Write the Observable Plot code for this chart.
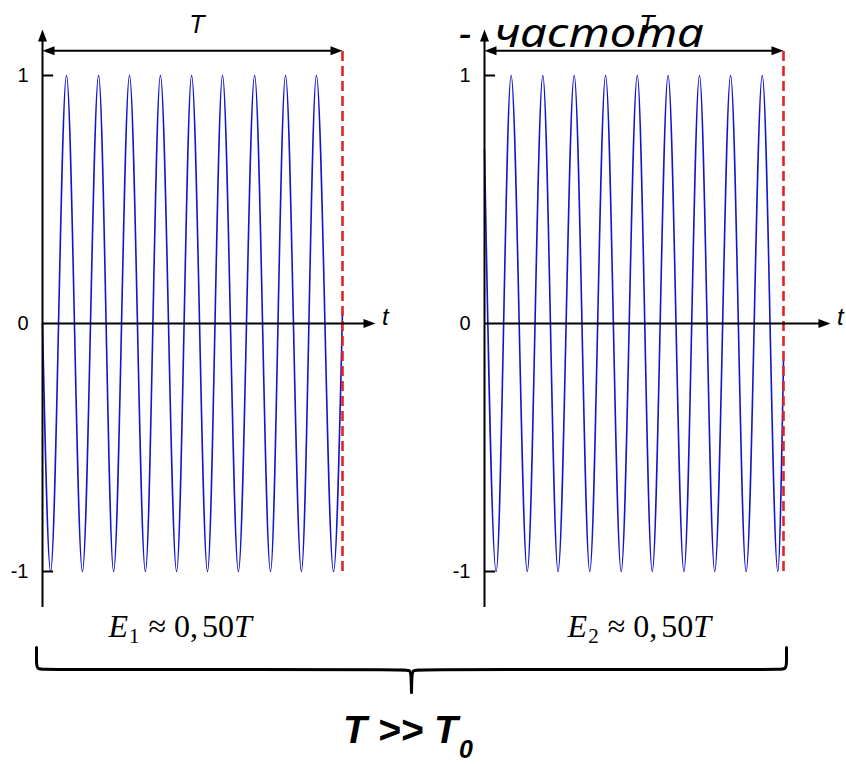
<!DOCTYPE html>
<html>
<head>
<meta charset="utf-8">
<script src="https://cdn.jsdelivr.net/npm/d3@7"></script>
<script src="https://cdn.jsdelivr.net/npm/@observablehq/plot@0.6"></script>
<style>
  html, body { margin: 0; padding: 0; background: #ffffff; }
  #fig { position: relative; width: 846px; height: 764px; overflow: hidden; background: #ffffff; }
  #fig svg { position: absolute; background: transparent !important; overflow: visible; }
  .hdr { position: absolute; font-family: "Noto Sans", "Liberation Sans", sans-serif; font-style: italic; font-size: 40px; line-height: 40px; white-space: pre; transform-origin: 0 0; color: #000; }
  .ftr { position: absolute; font-family: "Liberation Sans", Arial, sans-serif; font-style: italic; font-weight: bold; font-size: 39px; line-height: 39px; white-space: pre; color: #000; }
  .ftr.sub { font-size: 25px; line-height: 25px; }
</style>
</head>
<body>
<div id="fig"></div>
<script>
// ---------------- data ----------------
const yTickValues = [-1, 0, 1];
const yTickLabels = ["-1", "0", "1"];

// times (fraction of T) of the start, each extremum, and the end; values at those times
const leftT = [0, 0.027, 0.080, 0.133, 0.187, 0.237, 0.290, 0.343, 0.393, 0.447, 0.497,
               0.550, 0.600, 0.653, 0.707, 0.760, 0.810, 0.863, 0.913, 0.970, 1];
const leftV = [0, -1, 1, -1, 1, -1, 1, -1, 1, -1, 1,
               -1, 1, -1, 1, -1, 1, -1, 1, -1, 0.05];
const rightT = [0, 0.039, 0.089, 0.143, 0.195, 0.246, 0.300, 0.352, 0.405, 0.457, 0.511,
                0.561, 0.614, 0.667, 0.719, 0.770, 0.823, 0.875, 0.929, 0.981, 1];
const rightV = [0.7, -1, 1, -1, 1, -1, 1, -1, 1, -1, 1,
                -1, 1, -1, 1, -1, 1, -1, 1, -1, -0.15];

const periodLabel = "T";
const timeLabel = "t";
const energyLabels = ["E1 ≈ 0,50T", "E2 ≈ 0,50T"];
const headDash = "-";
const headWord = "частота";
const footMain = "T >> T";
const footSub = "0";

// ---------------- drawing ----------------
const sans = "'Liberation Sans', Arial, sans-serif";
const serif = "'Liberation Serif', 'Times New Roman', serif";
const upHead = {draw(c) { c.moveTo(0, 0); c.lineTo(4.5, 12); c.lineTo(-4.5, 12); c.closePath(); }};
const rightHead = {draw(c) { c.moveTo(0, 0); c.lineTo(-12, -4.5); c.lineTo(-12, 4.5); c.closePath(); }};
const leftHead = {draw(c) { c.moveTo(0, 0); c.lineTo(12, -4.5); c.lineTo(12, 4.5); c.closePath(); }};

const fig = document.getElementById("fig");
function place(el, left, top) {
  el.style.position = "absolute";
  el.style.left = left + "px";
  el.style.top = top + "px";
  fig.appendChild(el);
  return el;
}

function richEnergy(svg) {
  const NS = "http://www.w3.org/2000/svg";
  svg.querySelectorAll("text").forEach(el => {
    const m = el.textContent.match(/^(\S)(\d+)\s*≈\s*(\d+),(\d+)(\S)$/);
    if (!m) return;
    el.textContent = "";
    const parts = [
      {t: m[1], italic: true},
      {t: m[2], size: 21, dy: 6, dx: 1},
      {t: "≈", dy: -6, dx: 9},
      {t: m[3] + ",", dx: 8},
      {t: m[4], dx: 4},
      {t: m[5], italic: true}
    ];
    for (const p of parts) {
      const ts = document.createElementNS(NS, "tspan");
      ts.textContent = p.t;
      if (p.italic) ts.setAttribute("font-style", "italic");
      if (p.size) ts.setAttribute("font-size", p.size);
      if (p.dy) ts.setAttribute("dy", p.dy);
      if (p.dx) ts.setAttribute("dx", p.dx);
      el.appendChild(ts);
    }
  });
}

function panel(c) {
  const wave = c.t.map((t, i) => ({t, v: c.v[i]}));
  const ticks = yTickValues.map((v, i) => ({v, label: yTickLabels[i]}));
  const svg = Plot.plot({
    width: c.width, height: 645, margin: 0,
    style: {background: "transparent", overflow: "visible"},
    x: {domain: [0, 1], range: [42, c.xEnd], axis: null},
    y: {domain: [-1, 1], range: [571, 75], axis: null},
    marks: [
      Plot.line(wave, {x: "t", y: "v", curve: "monotone-x", stroke: "#1414cc", strokeWidth: 1.6}),
      Plot.ruleX([1], {y1: -1.0, y2: 1.11, stroke: "#e0242a", strokeWidth: 2.6, strokeDasharray: "10,5"}),
      Plot.ruleX([0], {y1: -1.145, y2: 1.14, stroke: "#000", strokeWidth: 2}),
      Plot.ruleY([0], {x1: 0, x2: c.axisEnd - 0.02, stroke: "#000", strokeWidth: 2}),
      Plot.ruleY([-1, 1], {x1: 0, x2: 0.037, stroke: "#000", strokeWidth: 2}),
      Plot.ruleY([1.1], {x1: 0.02, x2: 0.98, stroke: "#000", strokeWidth: 2}),
      Plot.dot([{x: 0, y: 1.185}], {x: "x", y: "y", symbol: upHead, fill: "#000", stroke: "none"}),
      Plot.dot([{x: c.axisEnd, y: 0}], {x: "x", y: "y", symbol: rightHead, fill: "#000", stroke: "none"}),
      Plot.dot([{x: 1, y: 1.1}], {x: "x", y: "y", symbol: rightHead, fill: "#000", stroke: "none"}),
      Plot.dot([{x: 0, y: 1.1}], {x: "x", y: "y", symbol: leftHead, fill: "#000", stroke: "none"}),
      Plot.text(ticks, {x: 0, y: "v", text: "label", dx: -14, textAnchor: "end", fontSize: 20, fontFamily: sans, fill: "#000"}),
      Plot.text([periodLabel], {x: c.periodX, y: 1.173, text: d => d, lineAnchor: "bottom", fontStyle: "italic", fontSize: 25, fontFamily: sans, fill: "#000"}),
      Plot.text([timeLabel], {x: c.timeX, y: -0.008, text: d => d, lineAnchor: "bottom", fontStyle: "italic", fontSize: 24, fontFamily: sans, fill: "#000"}),
      Plot.text([c.energy], {x: c.energyX, y: -1.266, text: d => d, textAnchor: "start", lineAnchor: "bottom", fontSize: 32, fontFamily: serif, fill: "#000"})
    ]
  });
  richEnergy(svg);
  return svg;
}

place(panel({t: leftT, v: leftV, width: 442, xEnd: 342, axisEnd: 1.11, timeX: 1.143, periodX: 0.515, energyX: 0.22, energy: energyLabels[0]}), 0, 0);
place(panel({t: rightT, v: rightV, width: 404, xEnd: 341, axisEnd: 1.157, timeX: 1.19, periodX: 0.543, energyX: 0.278, energy: energyLabels[1]}), 442, 0);

// curly brace grouping both panels (x: 0 = left panel start, 1 = right panel end)
function braceHalf(side) {
  const pts = [[0, 0], [0, 0], [0, 0.3], [0, 0.49], [0.012, 0.49], [0.3, 0.49], [0.49, 0.49], [0.4985, 0.5], [0.4995, 0.62], [0.5, 1], [0.5, 1]];
  return pts.map(([x, y]) => ({side, x: side === "l" ? x : 1 - x, y}));
}
const brace = Plot.plot({
  width: 846, height: 55, margin: 0,
  style: {background: "transparent", overflow: "visible"},
  x: {domain: [0, 1], range: [36, 786], axis: null},
  y: {domain: [0, 1], range: [2, 47], axis: null},
  marks: [
    Plot.line([...braceHalf("l"), ...braceHalf("r")], {x: "x", y: "y", z: "side", curve: "basis", stroke: "#000", strokeWidth: 3})
  ]
});
place(brace, 0, 645);

// heading fragment at top
const dash = document.createElement("div");
dash.className = "hdr";
dash.textContent = headDash;
place(dash, 459, 12);
const word = document.createElement("div");
word.className = "hdr";
word.textContent = headWord;
place(word, 494, 12);
const w = word.getBoundingClientRect().width;
word.style.transform = `scaleX(${210 / w})`;

// bottom note
const ftr = document.createElement("div");
ftr.className = "ftr";
ftr.textContent = footMain;
place(ftr, 343, 710);
const sub = document.createElement("div");
sub.className = "ftr sub";
sub.textContent = footSub;
place(sub, 343 + ftr.getBoundingClientRect().width + 1, 737);
</script>
</body>
</html>
